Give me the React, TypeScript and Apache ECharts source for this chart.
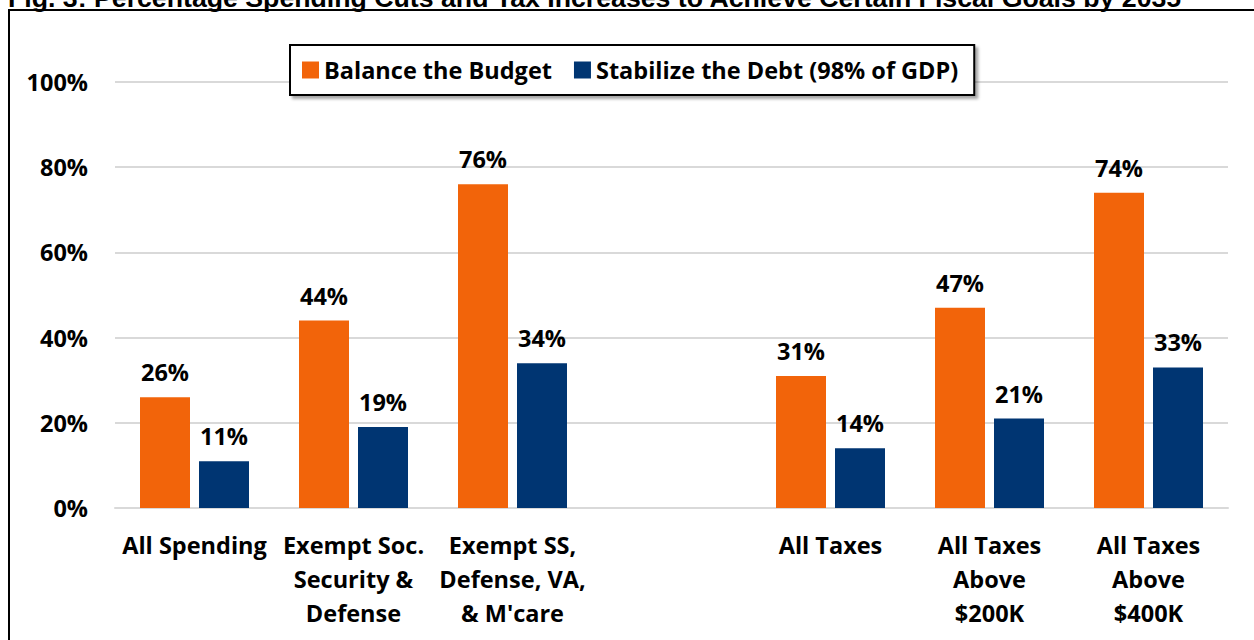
import React, { useEffect, useRef } from "react";
import * as echarts from "echarts";

const titleText =
  "Fig. 3: Percentage Spending Cuts and Tax Increases to Achieve Certain Fiscal Goals by 2035";
const categories = [
  "All Spending",
  "Exempt Soc.\nSecurity &\nDefense",
  "Exempt SS,\nDefense, VA,\n& M'care",
  "",
  "All Taxes",
  "All Taxes\nAbove\n$200K",
  "All Taxes\nAbove\n$400K",
];
const seriesNames = ["Balance the Budget", "Stabilize the Debt (98% of GDP)"];
const balanceBudget: (number | string)[] = [26, 44, 76, "-", 31, 47, 74];
const stabilizeDebt: (number | string)[] = [11, 19, 34, "-", 14, 21, 33];
const yTicks = { min: 0, max: 100, interval: 20 };

const ORANGE = "#F2640A";
const NAVY = "#003572";
const FONT = "Open Sans";
const FS = 23.5;

export default function App() {
  const ref = useRef<HTMLDivElement>(null);
  useEffect(() => {
    if (!ref.current) return;
    const chart = echarts.init(ref.current, undefined, { renderer: "svg" });
    const labelStyle = {
      show: true,
      position: "top" as const,
      distance: 13,
      formatter: "{c}%",
      fontFamily: FONT,
      fontWeight: "bold" as const,
      fontSize: FS,
      color: "#000",
    };
    chart.setOption({
      animation: false,
      backgroundColor: "#fff",
      graphic: [
        {
          type: "rect",
          shape: { x: 9, y: 10, width: 1300, height: 700 },
          style: { fill: "none", stroke: "#000", lineWidth: 2 },
          z: 0,
        },
        {
          type: "text",
          x: 8,
          y: 11,
          style: {
            text: titleText,
            font: "bold 26.7px 'Liberation Sans', Arial, sans-serif",
            fill: "#000",
            textVerticalAlign: "bottom",
          },
        },
      ],
      legend: {
        data: seriesNames,
        icon: "rect",
        left: 290,
        top: 45,
        padding: [13, 16, 13, 12],
        itemWidth: 17,
        itemHeight: 17,
        itemGap: 22,
        borderColor: "#000",
        borderWidth: 2,
        backgroundColor: "#fff",
        shadowColor: "rgba(0,0,0,0.35)",
        shadowBlur: 3,
        shadowOffsetX: 3,
        shadowOffsetY: 3,
        textStyle: {
          fontFamily: FONT,
          fontWeight: "bold",
          fontSize: FS,
          color: "#000",
        },
      },
      grid: { left: 115, right: 26, top: 82, bottom: 132, containLabel: false },
      xAxis: {
        type: "category",
        data: categories,
        axisLine: { lineStyle: { color: "#d9d9d9", width: 2 } },
        axisTick: { show: false },
        axisLabel: {
          interval: 0,
          margin: 20,
          lineHeight: 34,
          fontFamily: FONT,
          fontWeight: "bold",
          fontSize: FS,
          color: "#000",
        },
      },
      yAxis: {
        type: "value",
        min: yTicks.min,
        max: yTicks.max,
        interval: yTicks.interval,
        axisLine: { show: false },
        axisTick: { show: false },
        splitLine: { lineStyle: { color: "#d9d9d9", width: 2 } },
        axisLabel: {
          formatter: "{value}%",
          margin: 27,
          fontFamily: FONT,
          fontWeight: "bold",
          fontSize: FS,
          color: "#000",
        },
      },
      series: [
        {
          name: seriesNames[0],
          type: "bar",
          data: balanceBudget,
          barWidth: 50,
          barGap: "18%",
          itemStyle: { color: ORANGE },
          label: labelStyle,
        },
        {
          name: seriesNames[1],
          type: "bar",
          data: stabilizeDebt,
          barWidth: 50,
          itemStyle: { color: NAVY },
          label: labelStyle,
        },
      ],
    });
    return () => chart.dispose();
  }, []);
  return (
    <div
      ref={ref}
      style={{ position: "fixed", left: 0, top: 0, width: 1254, height: 640 }}
    />
  );
}
